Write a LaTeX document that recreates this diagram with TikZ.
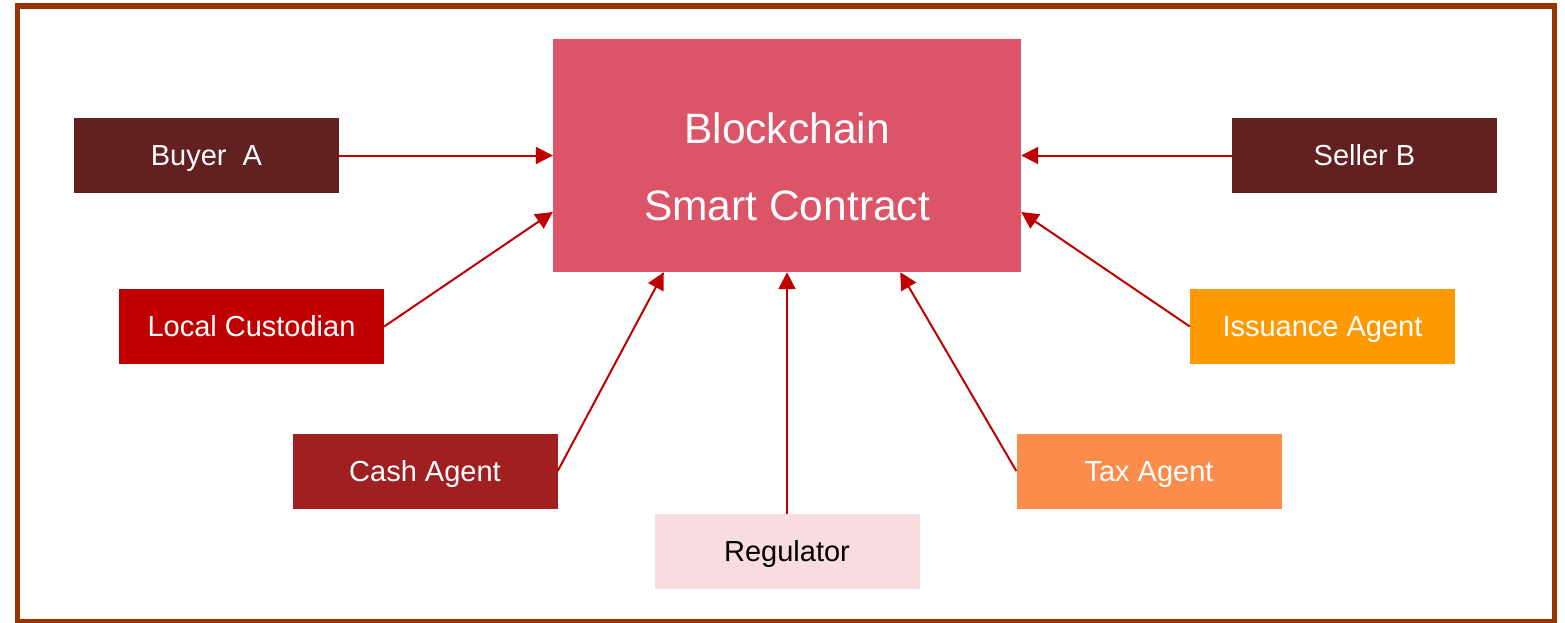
\documentclass[tikz,border=0pt]{standalone}
\usepackage{fontspec}
\setmainfont{Liberation Sans}
\usetikzlibrary{arrows.meta}
\definecolor{frame}{HTML}{993300}
\definecolor{bcpink}{HTML}{DB5468}
\definecolor{darkbrown}{HTML}{622120}
\definecolor{lcred}{HTML}{C00000}
\definecolor{issorange}{HTML}{FF9900}
\definecolor{cashred}{HTML}{A01F20}
\definecolor{taxorange}{HTML}{FB8C4C}
\definecolor{regpink}{HTML}{F8DCE0}
\definecolor{arrowred}{HTML}{C00000}
\tikzset{
  actor/.style={draw=none, minimum width=265pt, minimum height=75pt, inner sep=0pt,
    text=white, font=\fontsize{29}{34}\selectfont, text height=20.8pt, text depth=0pt},
  bigtext/.style={text=white, font=\fontsize{42.5}{50}\selectfont, anchor=base, inner sep=0pt},
  link/.style={draw=arrowred, line width=2pt, -{Triangle[length=17pt,width=17pt]}}
}
\begin{document}
\begin{tikzpicture}[x=1pt,y=-1pt]
\useasboundingbox (0,0) rectangle (1565,623);
\draw[frame, line width=5.5pt] (17.5,6) rectangle (1554.5,621.5);
\node[fill=bcpink, minimum width=468pt, minimum height=233pt, inner sep=0pt] (bc) at (787,155.5) {};
\node[bigtext] (bct1) at (787,143.5) {Blockchain};
\node[bigtext] (bct2) at (787,220.5) {Smart Contract};
\node[actor, fill=darkbrown] (buyer) at (206.5,155.5) {Buyer\ \ A};
\node[actor, fill=darkbrown] (seller) at (1364.5,155.5) {Seller B};
\node[actor, fill=lcred] (lc) at (251.5,326.5) {Local Custodian};
\node[actor, fill=issorange] (iss) at (1322.5,326.5) {Issuance Agent};
\node[actor, fill=cashred] (cash) at (425,471) {Cash Agent};
\node[actor, fill=taxorange] (tax) at (1149,471) {Tax Agent};
\node[actor, fill=regpink, text=black] (reg) at (787,551.5) {Regulator};
\draw[link] (buyer.east) -- (bc.west);
\draw[link] (seller.west) -- (bc.east);
\draw[link] (lc.east) -- ([yshift=-56.5pt]bc.west);
\draw[link] (iss.west) -- ([yshift=-56.5pt]bc.east);
\draw[link] (cash.east) -- ([xshift=111pt]bc.south west);
\draw[link] (tax.west) -- ([xshift=-121pt]bc.south east);
\draw[link] (reg.north) -- (bc.south);
\end{tikzpicture}
\end{document}
